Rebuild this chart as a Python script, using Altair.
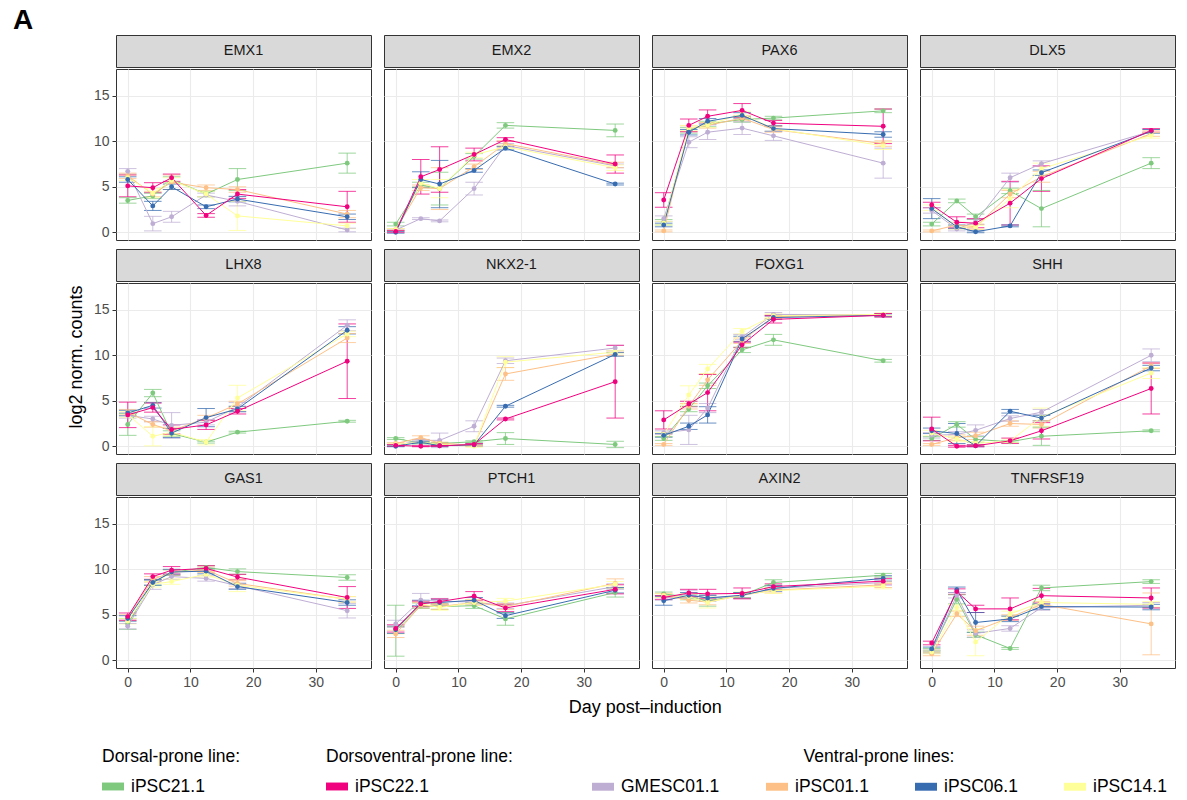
import altair as alt
import pandas as pd

FONT = "Liberation Sans"

days = [0, 4, 7, 12.5, 17.5, 35]
genes = ["EMX1", "EMX2", "PAX6", "DLX5",
         "LHX8", "NKX2-1", "FOXG1", "SHH",
         "GAS1", "PTCH1", "AXIN2", "TNFRSF19"]
# draw order: pink last so it sits on top
lines = ["iPSC21.1", "GMESC01.1", "iPSC01.1", "iPSC14.1", "iPSC06.1", "iPSC22.1"]
line_colors = ["#7fc97f", "#beaed4", "#fdc086", "#ffff99", "#386cb0", "#f0027f"]

dorsal_lines = ["iPSC21.1"]
dorsal_colors = ["#7fc97f"]
dv_lines = ["iPSC22.1"]
dv_colors = ["#f0027f"]
ventral_lines = ["GMESC01.1", "iPSC01.1", "iPSC06.1", "iPSC14.1"]
ventral_colors = ["#beaed4", "#fdc086", "#386cb0", "#ffff99"]

# mean log2 counts per gene, per line, per day
EMX1 = {
    "iPSC21.1": [3.5, 4.0, 5.8, 4.2, 5.8, 7.6],
    "iPSC22.1": [5.1, 4.9, 6.0, 1.85, 4.2, 2.8],
    "GMESC01.1": [6.7, 0.95, 1.7, 4.1, 3.4, 0.25],
    "iPSC01.1": [6.2, 4.2, 5.5, 4.9, 4.7, 2.0],
    "iPSC06.1": [5.8, 2.9, 5.0, 2.8, 3.65, 1.7],
    "iPSC14.1": [6.0, 4.3, 5.7, 4.2, 1.8, 0.7],
}
EMX1_sd = {
    "iPSC21.1": [0.3, 0.3, 0.3, 0.3, 1.2, 1.1],
    "iPSC22.1": [1.2, 0.55, 0.4, 0.2, 0.5, 1.7],
    "GMESC01.1": [0.3, 0.8, 0.6, 0.2, 0.5, 0.2],
    "iPSC01.1": [0.3, 0.3, 0.8, 0.3, 0.3, 0.4],
    "iPSC06.1": [0.3, 0.5, 0.3, 0.2, 0.3, 0.3],
    "iPSC14.1": [0.3, 0.5, 0.3, 0.3, 1.6, 0.3],
}
EMX2 = {
    "iPSC21.1": [0.9, 5.2, 4.8, 8.35, 11.75, 11.2],
    "iPSC22.1": [0.1, 6.1, 6.9, 8.55, 10.2, 7.5],
    "GMESC01.1": [0.25, 1.5, 1.25, 4.8, 9.55, 7.3],
    "iPSC01.1": [0.3, 4.9, 4.8, 7.2, 9.75, 7.4],
    "iPSC06.1": [0.0, 5.8, 5.3, 6.8, 9.25, 5.3],
    "iPSC14.1": [0.3, 5.4, 4.8, 8.5, 9.4, 7.1],
}
EMX2_sd = {
    "iPSC21.1": [0.2, 0.3, 1.8, 0.3, 0.3, 0.7],
    "iPSC22.1": [0.1, 1.9, 2.5, 0.7, 0.2, 1.0],
    "GMESC01.1": [0.1, 0.1, 0.1, 0.7, 0.2, 0.2],
    "iPSC01.1": [0.1, 0.3, 2.3, 0.3, 0.3, 0.3],
    "iPSC06.1": [0.1, 0.85, 2.6, 0.2, 0.2, 0.1],
    "iPSC14.1": [0.1, 0.4, 1.0, 0.3, 0.2, 0.3],
}
PAX6 = {
    "iPSC21.1": [1.1, 11.2, 11.9, 12.4, 12.55, 13.35],
    "iPSC22.1": [3.55, 11.75, 12.75, 13.4, 12.0, 11.65],
    "GMESC01.1": [1.5, 9.9, 11.0, 11.45, 10.6, 7.6],
    "iPSC01.1": [0.15, 11.4, 11.75, 12.55, 11.3, 9.75],
    "iPSC06.1": [0.8, 11.0, 12.2, 12.85, 11.4, 10.75],
    "iPSC14.1": [1.0, 11.45, 11.8, 13.0, 11.4, 9.5],
}
PAX6_sd = {
    "iPSC21.1": [0.3, 0.3, 0.3, 0.3, 0.2, 0.2],
    "iPSC22.1": [0.8, 0.7, 0.7, 0.75, 0.3, 1.9],
    "GMESC01.1": [0.3, 0.6, 0.8, 0.7, 0.5, 1.65],
    "iPSC01.1": [0.1, 0.3, 0.3, 0.3, 0.3, 0.3],
    "iPSC06.1": [0.2, 0.3, 0.3, 0.3, 0.3, 0.3],
    "iPSC14.1": [0.2, 0.3, 0.3, 0.3, 0.3, 0.4],
}
DLX5 = {
    "iPSC21.1": [0.9, 3.45, 1.7, 4.55, 2.6, 7.6],
    "iPSC22.1": [3.0, 1.1, 1.0, 3.2, 5.9, 11.2],
    "GMESC01.1": [2.4, 0.35, 1.15, 6.0, 7.55, 11.1],
    "iPSC01.1": [0.15, 0.8, 0.6, 4.2, 6.1, 10.85],
    "iPSC06.1": [2.6, 0.6, 0.05, 0.7, 6.55, 11.1],
    "iPSC14.1": [2.7, 0.55, 0.55, 3.7, 7.0, 10.65],
}
DLX5_sd = {
    "iPSC21.1": [0.2, 0.2, 0.3, 0.3, 2.0, 0.6],
    "iPSC22.1": [0.3, 0.6, 0.5, 2.4, 1.4, 0.2],
    "GMESC01.1": [0.3, 0.2, 0.3, 0.5, 0.3, 0.2],
    "iPSC01.1": [0.1, 0.3, 0.3, 0.4, 0.6, 0.3],
    "iPSC06.1": [1.1, 0.2, 0.1, 0.1, 0.3, 0.2],
    "iPSC14.1": [0.3, 0.2, 0.2, 1.0, 0.6, 0.3],
}
LHX8 = {
    "iPSC21.1": [2.4, 5.85, 1.4, 0.45, 1.55, 2.75],
    "iPSC22.1": [3.45, 4.25, 1.85, 2.35, 3.85, 9.35],
    "GMESC01.1": [3.4, 3.0, 2.3, 2.65, 4.3, 13.3],
    "iPSC01.1": [3.75, 2.4, 1.7, 3.1, 4.65, 11.9],
    "iPSC06.1": [3.65, 4.5, 1.45, 3.15, 4.1, 12.75],
    "iPSC14.1": [3.5, 1.1, 1.55, 0.45, 5.3, 12.35],
}
LHX8_sd = {
    "iPSC21.1": [1.2, 0.4, 0.3, 0.1, 0.1, 0.1],
    "iPSC22.1": [1.4, 0.5, 0.5, 0.5, 0.3, 4.1],
    "GMESC01.1": [0.3, 0.3, 1.4, 0.3, 0.5, 0.6],
    "iPSC01.1": [0.3, 0.3, 0.4, 0.3, 0.3, 0.5],
    "iPSC06.1": [0.3, 0.3, 0.5, 1.0, 0.3, 0.4],
    "iPSC14.1": [0.3, 1.05, 0.4, 0.3, 1.4, 0.3],
}
NKX2_1 = {
    "iPSC21.1": [0.85, 0.35, 0.3, 0.5, 0.85, 0.2],
    "iPSC22.1": [0.1, 0.0, 0.05, 0.2, 3.0, 7.1],
    "GMESC01.1": [0.1, 0.65, 0.65, 2.2, 9.4, 10.8],
    "iPSC01.1": [0.3, 0.95, 0.35, 0.1, 7.95, 10.15],
    "iPSC06.1": [0.0, 0.45, 0.05, 0.15, 4.4, 10.1],
    "iPSC14.1": [0.2, 0.45, 0.2, 0.0, 9.25, 10.35],
}
NKX2_1_sd = {
    "iPSC21.1": [0.1, 0.1, 0.1, 0.1, 0.65, 0.35],
    "iPSC22.1": [0.1, 0.05, 0.05, 0.1, 0.1, 4.0],
    "GMESC01.1": [0.1, 0.1, 0.8, 0.6, 0.3, 0.3],
    "iPSC01.1": [0.1, 0.2, 0.1, 0.1, 0.7, 0.2],
    "iPSC06.1": [0.05, 0.1, 0.05, 0.1, 0.1, 0.2],
    "iPSC14.1": [0.1, 0.1, 0.1, 0.1, 0.6, 0.2],
}
FOXG1 = {
    "iPSC21.1": [0.85, 4.1, 6.65, 10.6, 11.7, 9.4],
    "iPSC22.1": [2.9, 4.65, 5.9, 11.15, 13.95, 14.4],
    "GMESC01.1": [1.5, 1.8, 4.2, 12.0, 14.5, 14.45],
    "iPSC01.1": [0.2, 4.4, 7.3, 11.6, 14.25, 14.45],
    "iPSC06.1": [1.2, 2.2, 3.45, 11.8, 14.15, 14.4],
    "iPSC14.1": [1.3, 5.65, 8.5, 12.65, 14.35, 14.5],
}
FOXG1_sd = {
    "iPSC21.1": [0.2, 0.3, 0.3, 0.3, 0.6, 0.15],
    "iPSC22.1": [1.0, 0.3, 2.0, 0.3, 0.4, 0.2],
    "GMESC01.1": [0.2, 1.6, 0.5, 0.3, 0.2, 0.15],
    "iPSC01.1": [0.1, 0.3, 0.6, 0.3, 0.2, 0.15],
    "iPSC06.1": [0.2, 0.35, 0.9, 0.3, 0.2, 0.15],
    "iPSC14.1": [0.2, 1.0, 0.5, 0.3, 0.2, 0.15],
}
SHH = {
    "iPSC21.1": [0.85, 2.4, 0.75, 0.5, 1.1, 1.7],
    "iPSC22.1": [1.9, 0.0, 0.05, 0.6, 1.7, 6.35],
    "GMESC01.1": [1.2, 1.3, 1.75, 3.05, 3.75, 10.0],
    "iPSC01.1": [0.2, 0.95, 1.15, 2.5, 2.4, 8.85],
    "iPSC06.1": [1.7, 1.4, 0.05, 3.85, 3.1, 8.6],
    "iPSC14.1": [1.45, 0.8, 0.3, 0.6, 3.2, 8.05],
}
SHH_sd = {
    "iPSC21.1": [0.2, 0.3, 0.3, 0.1, 1.0, 0.1],
    "iPSC22.1": [1.3, 0.1, 0.1, 0.3, 0.9, 2.8],
    "GMESC01.1": [0.3, 0.3, 0.6, 0.3, 0.3, 0.7],
    "iPSC01.1": [0.1, 0.3, 0.4, 0.3, 0.4, 0.3],
    "iPSC06.1": [0.3, 1.1, 0.1, 0.2, 0.3, 0.3],
    "iPSC14.1": [0.3, 0.3, 0.2, 0.2, 1.0, 0.6],
}
GAS1 = {
    "iPSC21.1": [4.0, 8.55, 9.65, 10.2, 9.75, 9.1],
    "iPSC22.1": [4.8, 9.2, 9.9, 10.1, 9.15, 6.9],
    "GMESC01.1": [3.75, 8.3, 9.2, 9.0, 8.2, 5.45],
    "iPSC01.1": [4.7, 8.9, 9.65, 9.95, 8.45, 6.7],
    "iPSC06.1": [4.6, 8.55, 9.7, 9.8, 8.1, 6.35],
    "iPSC14.1": [4.3, 8.35, 8.65, 9.45, 8.25, 6.7],
}
GAS1_sd = {
    "iPSC21.1": [0.6, 0.3, 0.3, 0.2, 0.3, 0.3],
    "iPSC22.1": [0.4, 0.3, 0.4, 0.3, 0.3, 1.2],
    "GMESC01.1": [0.3, 0.5, 0.3, 0.3, 0.3, 0.8],
    "iPSC01.1": [0.3, 0.3, 0.3, 0.3, 0.3, 0.3],
    "iPSC06.1": [0.3, 0.3, 0.3, 0.3, 0.3, 0.3],
    "iPSC14.1": [0.3, 0.3, 0.3, 0.3, 0.7, 0.3],
}
PTCH1 = {
    "iPSC21.1": [3.25, 6.0, 5.9, 6.0, 4.55, 7.45],
    "iPSC22.1": [3.5, 6.2, 6.45, 7.05, 5.75, 7.8],
    "GMESC01.1": [4.0, 6.6, 6.5, 6.4, 6.0, 8.1],
    "iPSC01.1": [2.9, 6.05, 5.9, 6.35, 5.9, 8.45],
    "iPSC06.1": [3.35, 6.3, 6.35, 6.6, 4.9, 7.7],
    "iPSC14.1": [3.3, 6.2, 5.8, 6.35, 6.5, 8.35],
}
PTCH1_sd = {
    "iPSC21.1": [2.8, 0.3, 0.3, 0.3, 0.7, 0.5],
    "iPSC22.1": [0.4, 0.3, 0.3, 0.5, 0.4, 0.5],
    "GMESC01.1": [0.4, 0.75, 0.3, 0.3, 0.3, 0.3],
    "iPSC01.1": [0.4, 0.3, 0.3, 0.3, 0.3, 0.5],
    "iPSC06.1": [0.4, 0.3, 0.3, 0.3, 0.3, 0.3],
    "iPSC14.1": [0.4, 0.3, 0.3, 0.3, 0.3, 0.3],
}
AXIN2 = {
    "iPSC21.1": [7.3, 6.95, 6.55, 7.15, 8.55, 9.35],
    "iPSC22.1": [6.9, 7.4, 7.3, 7.35, 8.1, 8.7],
    "GMESC01.1": [6.8, 7.3, 6.8, 7.1, 7.9, 8.55],
    "iPSC01.1": [7.15, 6.6, 6.4, 7.15, 7.7, 8.3],
    "iPSC06.1": [6.55, 7.15, 6.85, 7.15, 7.9, 9.0],
    "iPSC14.1": [7.1, 7.0, 6.35, 7.2, 7.65, 8.15],
}
AXIN2_sd = {
    "iPSC21.1": [0.2, 0.3, 0.6, 0.3, 0.3, 0.2],
    "iPSC22.1": [0.2, 0.4, 0.5, 0.6, 0.3, 0.3],
    "GMESC01.1": [0.2, 0.4, 0.3, 0.3, 0.3, 0.3],
    "iPSC01.1": [0.2, 0.3, 0.3, 0.3, 0.3, 0.3],
    "iPSC06.1": [0.5, 0.3, 0.3, 0.3, 0.3, 0.3],
    "iPSC14.1": [0.2, 0.3, 0.6, 0.3, 0.3, 0.3],
}
TNFRSF19 = {
    "iPSC21.1": [1.1, 6.7, 2.8, 1.3, 7.95, 8.65],
    "iPSC22.1": [1.9, 7.55, 5.65, 5.65, 7.1, 6.85],
    "GMESC01.1": [0.95, 7.15, 2.95, 3.5, 5.8, 6.05],
    "iPSC01.1": [0.7, 5.1, 3.25, 4.7, 6.15, 4.0],
    "iPSC06.1": [1.25, 7.75, 4.15, 4.55, 5.9, 5.85],
    "iPSC14.1": [0.9, 5.8, 2.0, 5.1, 6.35, 6.15],
}
TNFRSF19_sd = {
    "iPSC21.1": [0.2, 0.5, 0.3, 0.1, 0.3, 0.2],
    "iPSC22.1": [0.2, 0.3, 0.4, 1.2, 0.8, 1.1],
    "GMESC01.1": [0.2, 0.3, 0.4, 0.3, 0.3, 0.3],
    "iPSC01.1": [0.2, 0.3, 0.5, 0.3, 0.3, 3.4],
    "iPSC06.1": [0.2, 0.3, 1.1, 0.3, 0.3, 0.3],
    "iPSC14.1": [0.2, 0.3, 1.5, 0.3, 0.3, 0.3],
}

means = {"EMX1": EMX1, "EMX2": EMX2, "PAX6": PAX6, "DLX5": DLX5,
         "LHX8": LHX8, "NKX2-1": NKX2_1, "FOXG1": FOXG1, "SHH": SHH,
         "GAS1": GAS1, "PTCH1": PTCH1, "AXIN2": AXIN2, "TNFRSF19": TNFRSF19}
sds = {"EMX1": EMX1_sd, "EMX2": EMX2_sd, "PAX6": PAX6_sd, "DLX5": DLX5_sd,
       "LHX8": LHX8_sd, "NKX2-1": NKX2_1_sd, "FOXG1": FOXG1_sd, "SHH": SHH_sd,
       "GAS1": GAS1_sd, "PTCH1": PTCH1_sd, "AXIN2": AXIN2_sd, "TNFRSF19": TNFRSF19_sd}

CAP = 1.4  # half width of error-bar caps, in days

rows = []
for g in genes:
    for ln in lines:
        for d, v, s in zip(days, means[g][ln], sds[g][ln]):
            rows.append({"gene": g, "line": ln, "day": d, "value": v,
                         "lo": v - s, "hi": v + s,
                         "xlo": d - CAP, "xhi": d + CAP})
df = pd.DataFrame(rows)

W, H, SH = 255, 171, 32
xscale = alt.Scale(domain=[-1.87, 38.8], nice=False, zero=False)
yscale = alt.Scale(domain=[-0.85, 17.95], nice=False, zero=False)
color = alt.Color("line:N", scale=alt.Scale(domain=lines, range=line_colors), legend=None)


def panel(gene, r, c):
    d = df[df.gene == gene]
    bottom = r == 2
    left = c == 0
    xkw = dict(values=[0, 10, 20, 30], grid=True, labels=bottom, ticks=bottom,
               domain=False, gridColor="#ebebeb", gridWidth=1.1,
               tickColor="#333333", tickSize=4, labelFontSize=14,
               labelColor="#4d4d4d", labelFont=FONT, labelPadding=3, title=None)
    ykw = dict(values=[0, 5, 10, 15], grid=True, labels=left, ticks=left,
               domain=False, gridColor="#ebebeb", gridWidth=1.1,
               tickColor="#333333", tickSize=4, labelFontSize=14,
               labelColor="#4d4d4d", labelFont=FONT, labelPadding=3)
    if left:
        ykw.update(title="log2 norm. counts", titleFontSize=18,
                   titleFontWeight="normal", titleColor="#000000",
                   titleFont=FONT, titlePadding=8,
                   titleOpacity=1 if r == 1 else 0)
        if r == 1:
            ykw.update(titleY=H / 2 - 12)
    else:
        ykw.update(title=None)

    base = alt.Chart(d)
    xenc = alt.X("day:Q", scale=xscale, axis=alt.Axis(**xkw))
    yenc = alt.Y("value:Q", scale=yscale, axis=alt.Axis(**ykw))
    eb = base.mark_rule(strokeWidth=1, opacity=0.75).encode(
        x=xenc, y=alt.Y("lo:Q", scale=yscale), y2="hi:Q", color=color)
    cap_lo = base.mark_rule(strokeWidth=1, opacity=0.75).encode(
        x=alt.X("xlo:Q", scale=xscale), x2="xhi:Q",
        y=alt.Y("lo:Q", scale=yscale), color=color)
    cap_hi = base.mark_rule(strokeWidth=1, opacity=0.75).encode(
        x=alt.X("xlo:Q", scale=xscale), x2="xhi:Q",
        y=alt.Y("hi:Q", scale=yscale), color=color)
    ln = base.mark_line(strokeWidth=1).encode(x=xenc, y=yenc, color=color)
    pt = base.mark_circle(size=24, opacity=1).encode(x=xenc, y=yenc, color=color)
    plot = alt.layer(eb, cap_lo, cap_hi, ln, pt).properties(
        width=W, height=H,
        view=alt.ViewBackground(stroke="#333333", strokeWidth=1, fill="#ffffff"))
    strip = alt.Chart(pd.DataFrame({"g": [gene]})).mark_text(
        fontSize=14.5, font=FONT, color="#1a1a1a").encode(text="g:N").properties(
        width=W, height=SH,
        view=alt.ViewBackground(fill="#d9d9d9", stroke="#333333", strokeWidth=1))
    return alt.vconcat(strip, plot, spacing=0)


grid_rows = []
for r in range(3):
    row = alt.hconcat(*[panel(genes[r * 4 + c], r, c) for c in range(4)], spacing=11)
    if r == 2:
        row = row.properties(title=alt.TitleParams(
            "Day post\u2013induction", orient="bottom", anchor="middle",
            fontSize=18, fontWeight="normal", font=FONT, color="#000000",
            offset=9, dx=24))
    grid_rows.append(row)
grid = alt.vconcat(*grid_rows, spacing=7)

SYMBOL = "M-1,-0.36L1,-0.36L1,0.36L-1,0.36Z"


def legend_layer(group_lines, group_colors, title, lx, anchor):
    d = pd.DataFrame({"line": group_lines})
    return alt.Chart(d).mark_point(filled=True, opacity=0).encode(
        color=alt.Color("line:N",
                        scale=alt.Scale(domain=group_lines, range=group_colors),
                        legend=alt.Legend(
                            title=title, orient="none", legendX=lx, legendY=0,
                            direction="horizontal", titleAnchor=anchor,
                            symbolType=SYMBOL, symbolSize=484, symbolOpacity=1,
                            symbolStrokeWidth=0, labelFontSize=17.5,
                            titleFontSize=17.5, titleFontWeight="normal",
                            titleColor="#000000", labelColor="#000000",
                            labelFont=FONT, titleFont=FONT, titlePadding=10,
                            columnPadding=46, labelOffset=7,
                            titleLimit=400, labelLimit=200)))


legend_chart = alt.layer(
    legend_layer(dorsal_lines, dorsal_colors, "Dorsal-prone line:", -14, "start"),
    legend_layer(dv_lines, dv_colors, "Dorsoventral-prone line:", 210, "start"),
    legend_layer(ventral_lines, ventral_colors, "Ventral-prone lines:", 476, "middle"),
).resolve_scale(color="independent").properties(
    width=1000, height=1,
    view=alt.ViewBackground(strokeOpacity=0, fill="#ffffff"))

chart = alt.vconcat(grid, legend_chart, spacing=28).resolve_scale(
    color="independent").properties(
    title=alt.TitleParams("A", anchor="start", fontSize=28, fontWeight="bold",
                          font=FONT, color="#000000", dx=-54, offset=0),
    padding={"left": 12, "top": 6, "right": 2, "bottom": 2},
    background="#ffffff",
)

chart.save("out.html", embed_options={"renderer": "svg", "actions": False})
